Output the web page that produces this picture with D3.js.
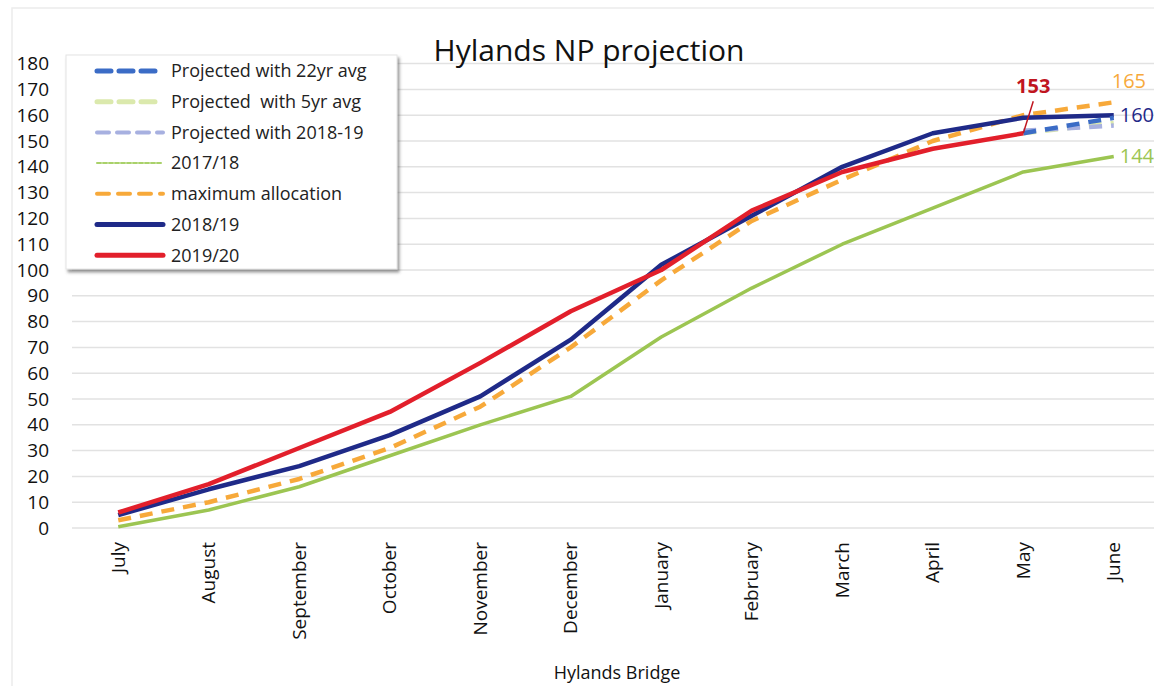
<!DOCTYPE html>
<html>
<head>
<meta charset="utf-8">
<script src="https://cdn.jsdelivr.net/npm/d3@7"></script>
<style>
  body { margin: 0; background: #fff; }
  svg { font-family: "Open Sans", sans-serif; }
</style>
</head>
<body>
<div id="chart"></div>
<script>
// data
var months = ["July", "August", "September", "October", "November", "December",
              "January", "February", "March", "April", "May", "June"];
var yTicks = [0, 10, 20, 30, 40, 50, 60, 70, 80, 90, 100, 110, 120, 130, 140, 150, 160, 170, 180];

var season1920 = [6, 17, 31, 45, 64, 84, 100, 123, 138, 147, 153, null];
var season1819 = [5, 15, 24, 36, 51, 73, 102, 121, 140, 153, 159, 160];
var season1718 = [0.5, 7, 16, 28, 40, 51, 74, 93, 110, 124, 138, 144];
var maxAlloc   = [3, 10, 19, 31, 47, 70, 96, 119, 135, 150, 160, 165];
var proj22yr   = [null, null, null, null, null, null, null, null, null, null, 153, 159];
var proj5yr    = [null, null, null, null, null, null, null, null, null, null, 153, 157];
var proj1819   = [null, null, null, null, null, null, null, null, null, null, 154, 156];

var legendNames = ["Projected with 22yr avg", "Projected  with 5yr avg", "Projected with 2018-19",
                   "2017/18", "maximum allocation", "2018/19", "2019/20"];

var W = 1154, H = 686;

var svg = d3.select("#chart")
    .append("svg")
    .attr("width", W)
    .attr("height", H);

var defs = svg.append("defs");
var shadow = defs.append("filter").attr("id", "shadow")
    .attr("x", "-5%").attr("y", "-5%").attr("width", "115%").attr("height", "115%");
shadow.append("feDropShadow")
    .attr("dx", 2).attr("dy", 3).attr("stdDeviation", 1.5)
    .attr("flood-color", "#555").attr("flood-opacity", 0.6);

// faint outer frame of the chart area
svg.append("rect")
    .attr("x", 12).attr("y", 8).attr("width", W).attr("height", H)
    .attr("fill", "none").attr("stroke", "#ececec").attr("stroke-width", 1.5);

// scales
var x = d3.scaleBand()
    .domain(months)
    .range([73, 73 + 12 * 90.5]);

var y = d3.scaleLinear()
    .domain([0, 180])
    .range([528, 63.6]);

function cx(m) { return x(m) + x.bandwidth() / 2; }

// gridlines
svg.append("g")
    .selectAll("line")
    .data(yTicks)
    .join("line")
    .attr("x1", 72).attr("x2", W)
    .attr("y1", function (d) { return y(d); })
    .attr("y2", function (d) { return y(d); })
    .attr("stroke", "#e2e2e2")
    .attr("stroke-width", 1.5);

// y axis labels
var yAxis = svg.append("g")
    .attr("transform", "translate(57,0)")
    .call(d3.axisLeft(y).tickValues(yTicks).tickSize(0).tickPadding(8));
yAxis.select(".domain").remove();
yAxis.selectAll("text")
    .style("font-family", "Open Sans, sans-serif")
    .style("font-size", "19px")
    .attr("fill", "#111");

// x axis labels (rotated)
var xAxis = svg.append("g")
    .attr("transform", "translate(0,530)")
    .call(d3.axisBottom(x).tickSize(0).tickPadding(0));
xAxis.select(".domain").remove();
xAxis.selectAll("text")
    .style("font-family", "Open Sans, sans-serif")
    .style("font-size", "19px")
    .attr("fill", "#111")
    .attr("text-anchor", "end")
    .attr("dy", "0.35em")
    .attr("transform", "translate(0,12) rotate(-90)")
    .attr("x", 0).attr("y", 0);

// title and axis title
svg.append("text")
    .attr("x", 589).attr("y", 61)
    .attr("text-anchor", "middle")
    .style("font-size", "30px")
    .attr("fill", "#111")
    .text("Hylands NP projection");

svg.append("text")
    .attr("x", 617).attr("y", 679)
    .attr("text-anchor", "middle")
    .style("font-size", "18px")
    .attr("fill", "#111")
    .text("Hylands Bridge");

// series
var line = d3.line()
    .defined(function (d) { return d.v !== null; })
    .x(function (d) { return cx(d.m); })
    .y(function (d) { return y(d.v); });

function pts(arr) {
    return months.map(function (m, i) { return {m: m, v: arr[i]}; });
}

var series = [
    {vals: season1718, color: "#9cc552", width: 3.5, dash: null},
    {vals: maxAlloc,   color: "#f7a93a", width: 4.5, dash: "13,9"},
    {vals: season1819, color: "#1f2a88", width: 4.5, dash: null},
    {vals: proj5yr,    color: "#dbe9ad", width: 4.5, dash: "13,9"},
    {vals: proj1819,   color: "#a7b0e0", width: 4.5, dash: "13,9"},
    {vals: proj22yr,   color: "#3b6cc6", width: 4.5, dash: "13,9"},
    {vals: season1920, color: "#e21f2b", width: 4.5, dash: null}
];

svg.append("g")
    .selectAll("path")
    .data(series)
    .join("path")
    .attr("fill", "none")
    .attr("stroke", function (d) { return d.color; })
    .attr("stroke-width", function (d) { return d.width; })
    .attr("stroke-dasharray", function (d) { return d.dash; })
    .attr("stroke-linejoin", "round")
    .attr("d", function (d) { return line(pts(d.vals)); });

// data labels at the end
var last = months.length - 1;
svg.append("text")
    .attr("x", cx("June") - 2).attr("y", y(maxAlloc[last]) - 14)
    .style("font-size", "20px").attr("fill", "#f7a93a")
    .text(maxAlloc[last]);
svg.append("text")
    .attr("x", cx("June") + 6).attr("y", y(season1819[last]) + 7)
    .style("font-size", "20px").attr("fill", "#1f2a88")
    .text(season1819[last]);
svg.append("text")
    .attr("x", cx("June") + 6).attr("y", y(season1718[last]) + 7)
    .style("font-size", "20px").attr("fill", "#9cc552")
    .text(season1718[last]);

// 153 label with leader line
var mayX = cx("May"), mayY = y(season1920[10]);
svg.append("line")
    .attr("x1", mayX).attr("y1", mayY)
    .attr("x2", mayX + 10).attr("y2", mayY - 32)
    .attr("stroke", "#c0151f").attr("stroke-width", 1.5);
svg.append("text")
    .attr("x", mayX + 10).attr("y", mayY - 40)
    .attr("text-anchor", "middle")
    .style("font-size", "20px").style("font-weight", "bold")
    .attr("fill", "#c0151f")
    .text(season1920[10]);

// legend
var legend = svg.append("g");
legend.append("rect")
    .attr("x", 66).attr("y", 55).attr("width", 331).attr("height", 214)
    .attr("fill", "#fff").attr("stroke", "#e4e4e4")
    .attr("filter", "url(#shadow)");

var legendStyles = [
    {color: "#3b6cc6", width: 5, dash: "14,8"},
    {color: "#dbe9ad", width: 5, dash: "14,8"},
    {color: "#a7b0e0", width: 4, dash: "12,8"},
    {color: "#a9d16a", width: 2, dash: "4,2"},
    {color: "#f7a93a", width: 4, dash: "12,9"},
    {color: "#1f2a88", width: 5, dash: null},
    {color: "#e21f2b", width: 5, dash: null}
];

var rows = legend.selectAll("g.row")
    .data(legendNames)
    .join("g")
    .attr("class", "row")
    .attr("transform", function (d, i) { return "translate(0," + (71 + i * 30.7) + ")"; });

rows.append("line")
    .attr("x1", 97).attr("x2", 163)
    .attr("stroke", function (d, i) { return legendStyles[i].color; })
    .attr("stroke-width", function (d, i) { return legendStyles[i].width; })
    .attr("stroke-dasharray", function (d, i) { return legendStyles[i].dash; })
    .attr("stroke-linecap", "round");

rows.append("text")
    .attr("x", 171)
    .attr("dy", "0.35em")
    .style("font-size", "18px")
    .attr("fill", "#222")
    .attr("xml:space", "preserve")
    .text(function (d) { return d; });
</script>
</body>
</html>
